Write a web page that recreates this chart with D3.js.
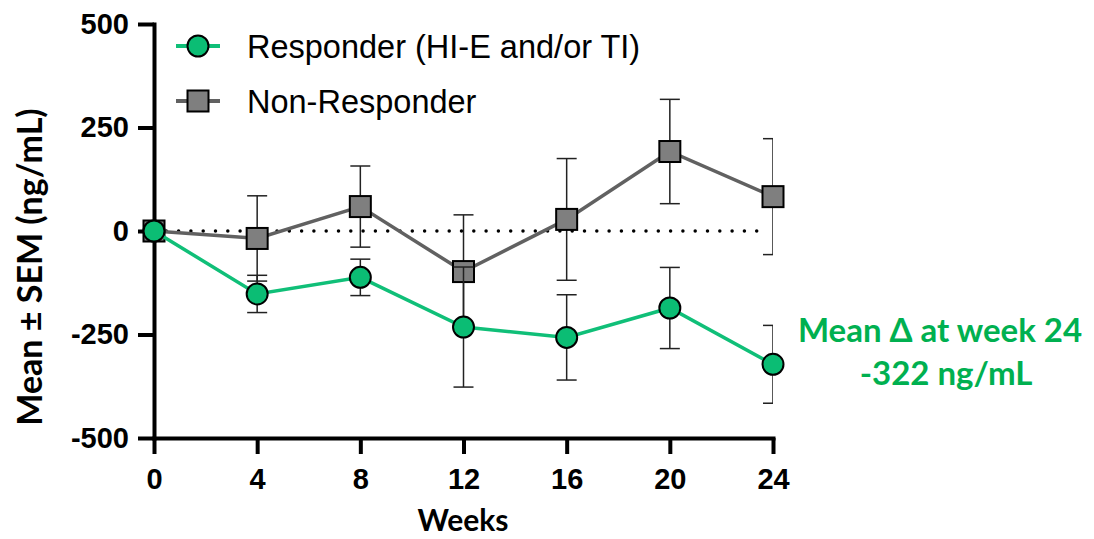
<!DOCTYPE html>
<html>
<head>
  <meta charset="utf-8">
  <script src="https://d3js.org/d3.v7.min.js"></script>
  <style>
  body { margin: 0; background: #fff; }
  .axis path, .axis line { stroke: black; stroke-width: 4px; }
  .axis text { font-family: "Liberation Sans", Arial, sans-serif; font-weight: bold; font-size: 29px; fill: black; }
  .title { font-family: Lato, "Open Sans", sans-serif; font-weight: bold; font-size: 34px; fill: black; }
  .legend text { font-family: "Liberation Sans", Arial, sans-serif; font-size: 32.5px; fill: black; }
  .note { font-family: Lato, "Open Sans", sans-serif; font-weight: bold; font-size: 33px; fill: #00b050; }
  .err { stroke: #222; stroke-width: 1.5px; fill: none; }
  </style>
</head>
<body>
<script>
// weeks on the x axis
var weeks = [0, 4, 8, 12, 16, 20, 24];
var xTicks = [0, 4, 8, 12, 16, 20, 24];
var yTicks = [-500, -250, 0, 250, 500];

// mean change (ng/mL) and SEM
var respMean = [0, -152, -112, -232, -257, -186, -322];
var respSem  = [0, 45, 44, 145, 103, 98, 94];
var nonMean  = [0, -18, 59, -98, 28, 192, 83];
var nonSem   = [0, 103, 98, 137, 147, 126, 140];

var seriesNames = ['Responder (HI-E and/or TI)', 'Non-Responder'];

var width = 1094, height = 539;
var x0 = 154, x1 = 773, yTop = 24, yBot = 438;

var svg = d3.select('body').append('svg')
  .attr('width', width)
  .attr('height', height);

var x = d3.scaleLinear().domain([0, 24]).range([x0, x1]);
var y = d3.scaleLinear().domain([-500, 500]).range([yBot, yTop]);

// clip so the last error caps are cut at the end of the x axis
svg.append('clipPath').attr('id', 'clip')
  .append('rect').attr('x', 0).attr('y', 0).attr('width', x1).attr('height', height);

// dotted zero line
svg.append('line')
  .attr('x1', x(0)).attr('x2', x(23.7))
  .attr('y1', y(0)).attr('y2', y(0))
  .attr('stroke', 'black')
  .attr('stroke-width', 3.5)
  .attr('stroke-linecap', 'round')
  .attr('stroke-dasharray', '0 12.3');

// axes (plain hyphen for negatives, like the original)
var fmt = function(d) { return String(d); };
var yAxis = d3.axisLeft(y).tickValues(yTicks).tickFormat(fmt).tickSize(16).tickSizeOuter(0).tickPadding(9);
var xAxis = d3.axisBottom(x).tickValues(xTicks).tickFormat(fmt).tickSize(16).tickSizeOuter(0).tickPadding(14);

svg.append('g').attr('class', 'y axis')
  .attr('transform', 'translate(' + x0 + ',0)')
  .call(yAxis);
svg.append('g').attr('class', 'x axis')
  .attr('transform', 'translate(0,' + y(-500) + ')')
  .call(xAxis);
svg.selectAll('.axis path').attr('stroke-linecap', 'square');

function drawSeries(mean, sem, color, markerFill, shape) {
  var pts = weeks.map(function(w, i) { return {w: w, m: mean[i], s: sem[i]}; });

  var eb = svg.append('g').attr('clip-path', 'url(#clip)');
  pts.filter(function(d) { return d.s > 0; }).forEach(function(d) {
    eb.append('line').attr('class', 'err')
      .attr('x1', x(d.w)).attr('x2', x(d.w))
      .attr('y1', y(d.m + d.s)).attr('y2', y(d.m - d.s));
    [d.m + d.s, d.m - d.s].forEach(function(v) {
      eb.append('line').attr('class', 'err')
        .attr('x1', x(d.w) - 10).attr('x2', x(d.w) + 10)
        .attr('y1', y(v)).attr('y2', y(v));
    });
  });

  svg.append('path')
    .datum(pts)
    .attr('fill', 'none')
    .attr('stroke', color)
    .attr('stroke-width', 3.5)
    .attr('d', d3.line().x(function(d) { return x(d.w); }).y(function(d) { return y(d.m); }));

  var mk = svg.append('g');
  if (shape === 'circle') {
    mk.selectAll('circle').data(pts).enter().append('circle')
      .attr('cx', function(d) { return x(d.w); })
      .attr('cy', function(d) { return y(d.m); })
      .attr('r', 10.5)
      .attr('fill', markerFill).attr('stroke', 'black').attr('stroke-width', 2);
  } else {
    mk.selectAll('rect').data(pts).enter().append('rect')
      .attr('x', function(d) { return x(d.w) - 10.5; })
      .attr('y', function(d) { return y(d.m) - 10.5; })
      .attr('width', 21).attr('height', 21)
      .attr('fill', markerFill).attr('stroke', 'black').attr('stroke-width', 2);
  }
}

drawSeries(nonMean, nonSem, '#616161', '#7f7f7f', 'square');
drawSeries(respMean, respSem, '#10bf78', '#0bbd74', 'circle');

// legend
var legend = svg.append('g').attr('class', 'legend');
var lg = [
  {name: seriesNames[0], color: '#10bf78', fill: '#0bbd74', shape: 'circle', y: 46},
  {name: seriesNames[1], color: '#616161', fill: '#7f7f7f', shape: 'square', y: 101}
];
lg.forEach(function(d) {
  legend.append('line')
    .attr('x1', 176).attr('x2', 220).attr('y1', d.y).attr('y2', d.y)
    .attr('stroke', d.color).attr('stroke-width', 4);
  if (d.shape === 'circle') {
    legend.append('circle').attr('cx', 198).attr('cy', d.y).attr('r', 10.5)
      .attr('fill', d.fill).attr('stroke', 'black').attr('stroke-width', 2);
  } else {
    legend.append('rect').attr('x', 187.5).attr('y', d.y - 10.5).attr('width', 21).attr('height', 21)
      .attr('fill', d.fill).attr('stroke', 'black').attr('stroke-width', 2);
  }
  legend.append('text').attr('x', 247).attr('y', d.y + 12).text(d.name);
});

// axis titles
svg.append('text').attr('class', 'title')
  .attr('text-anchor', 'middle')
  .attr('transform', 'translate(42,267) rotate(-90)')
  .text('Mean ± SEM (ng/mL)');
svg.append('text').attr('class', 'title')
  .attr('text-anchor', 'middle')
  .style('font-size', '30px')
  .attr('x', 463).attr('y', 531)
  .text('Weeks');

// annotation
svg.append('text').attr('class', 'note')
  .attr('text-anchor', 'middle').attr('x', 940).attr('y', 342)
  .text('Mean Δ at week 24');
svg.append('text').attr('class', 'note')
  .attr('text-anchor', 'middle').attr('x', 946).attr('y', 385)
  .text('-322 ng/mL');
</script>
</body>
</html>
